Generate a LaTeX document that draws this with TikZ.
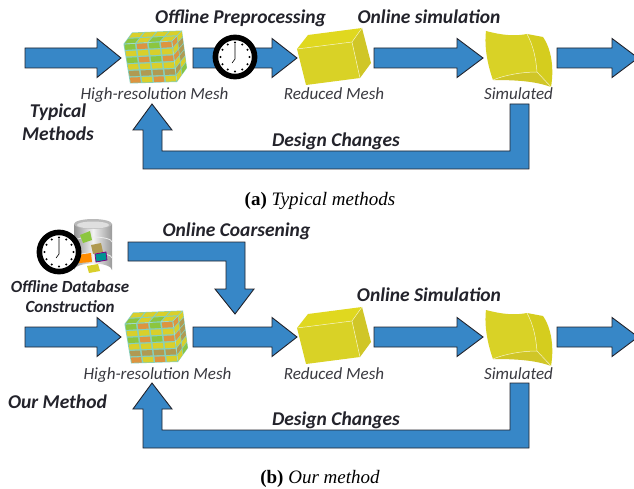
\documentclass[tikz,border=0pt]{standalone}
\usepackage{fontspec}
\setmainfont{Liberation Serif}
\newfontfamily\calib{Carlito}
\usetikzlibrary{calc}
\definecolor{blk}{HTML}{3787C7}
\definecolor{ink}{HTML}{23232B}
\definecolor{cy}{HTML}{D9CF2B}
\definecolor{cg}{HTML}{8CC63F}
\definecolor{co}{HTML}{DD9440}
\definecolor{ck}{HTML}{B09A52}
\definecolor{mortar}{HTML}{86D0BC}
\definecolor{ylw}{HTML}{D9D226}
\definecolor{ylwt}{HTML}{E0D81F}
\definecolor{ylwd}{HTML}{D0C627}
\tikzset{
  blockarrow/.style={fill=blk,draw=ink,line width=0.9pt,line join=miter},
  headlabel/.style={font=\calib\bfseries\itshape\fontsize{19.5}{22}\selectfont,text=ink,inner sep=0pt,align=center},
  dblabel/.style={font=\calib\bfseries\itshape\fontsize{17}{20}\selectfont,text=ink,inner sep=0pt,align=center},
  meshlabel/.style={font=\calib\itshape\fontsize{17}{20}\selectfont,text=ink!90,inner sep=0pt},
  caption/.style={font=\fontsize{19}{22}\selectfont,text=black,inner sep=0pt},
  solid yellow/.style={draw=white!70!ylw,line width=0.5pt,line join=round},
}
% straight block arrow: x0, x1 (neck), tip x, centre y
\newcommand{\flatarrow}[4]{%
  \draw[blockarrow] (#1,#4-10) -- (#2,#4-10) -- (#2,#4-19.5) -- (#3,#4) -- (#2,#4+19.5) -- (#2,#4+10) -- (#1,#4+10) -- cycle;}
% feedback arrow, y offset
\newcommand{\feedback}[1]{%
  \draw[blockarrow] (510,#1+104) -- (529,#1+104) -- (529,#1+169) -- (143,#1+169) -- (143,#1+130) -- (133,#1+130) -- (152,#1+104) -- (172,#1+130) -- (162,#1+130) -- (162,#1+151) -- (510,#1+151) -- cycle;}
% grid of bricks on quad A B C D (cols, rows, colours)
\newcommand{\bricks}[7]{%
  \fill[mortar] (#1) -- (#2) -- (#3) -- (#4) -- cycle;
  \foreach \cc [count=\i from 0] in {#7} {
    \pgfmathsetmacro{\cl}{int(mod(\i,#5))}
    \pgfmathsetmacro{\rw}{int(\i/#5)}
    \pgfmathsetmacro{\ua}{(\cl+0.07)/#5}
    \pgfmathsetmacro{\ub}{(\cl+0.93)/#5}
    \pgfmathsetmacro{\va}{(\rw+0.1)/#6}
    \pgfmathsetmacro{\vb}{(\rw+0.9)/#6}
    \fill[\cc]
      ($($(#1)!\ua!(#2)$)!\va!($(#4)!\ua!(#3)$)$) --
      ($($(#1)!\ub!(#2)$)!\va!($(#4)!\ub!(#3)$)$) --
      ($($(#1)!\ub!(#2)$)!\vb!($(#4)!\ub!(#3)$)$) --
      ($($(#1)!\ua!(#2)$)!\vb!($(#4)!\ua!(#3)$)$) -- cycle;
  }}
\newcommand{\brickcube}[2]{%
  \begin{scope}[shift={(#1,#2)}]
    \coordinate (ftl) at (123.5,44);
    \coordinate (ftr) at (172,41);
    \coordinate (fbr) at (177,82);
    \coordinate (fbl) at (130,83.5);
    \coordinate (btl) at (132,32.5);
    \coordinate (btr) at (182,30.5);
    \coordinate (rbr) at (187,68);
    \bricks{btl}{btr}{ftr}{ftl}{4}{2}{cy,cy,cy,cy,cg,cy,cg,cy}
    \bricks{ftl}{ftr}{fbr}{fbl}{4}{6}{cg,co,cg,co,cy,cy,cy,cy,cg,co,cg,co,cy,cy,cy,cy,ck,ck,ck,ck,co,cy,co,cy}
    \bricks{ftr}{btr}{rbr}{fbr}{2}{6}{co,cy,cy,ck,co,ck,cy,ck,ck,cy,cy,cg}
  \end{scope}}
\newcommand{\clockface}[2]{%
  \begin{scope}[shift={(#1,#2)}]
    \draw[black,line width=5.6pt,fill=white] (0,0) circle[radius=19.6];
    \foreach \a in {0,30,...,330} \fill[black] (\a:14.5) circle[radius=1.1];
    \draw[black,line width=0.6pt,line cap=round] (-3,6) -- (0,2) -- (0,-13);
  \end{scope}}
\newcommand{\reducedblock}{%
  \fill[ylwt] (297,49) -- (308,35) -- (362,28) -- (352,42) -- cycle;
  \fill[ylwd] (352,42) -- (362,28) -- (371,63) -- (360,78) -- cycle;
  \fill[ylw] (297,49) -- (352,42) -- (360,78) -- (306,85) -- cycle;
  \draw[solid yellow] (297,49) -- (352,42) -- (360,78) (352,42) -- (362,28);}
\newcommand{\simblock}{%
  \fill[ylw] (486,31) .. controls (505,36) and (516,36) .. (527,34) .. controls (534,47) and (536,60) .. (537,72) .. controls (522,72) and (505,75) .. (493,80) .. controls (488,66) and (484,48) .. (486,31) -- cycle;
  \fill[ylwt!95!black] (527,34) -- (543,37) .. controls (552,50) and (554,70) .. (551,87) .. controls (546,80) and (542,76) .. (537,72) .. controls (536,60) and (534,47) .. (527,34) -- cycle;
  \fill[ylwd] (493,80) .. controls (505,75) and (522,72) .. (537,72) .. controls (542,76) and (546,80) .. (551,87) .. controls (535,81) and (515,80) .. (493,80) -- cycle;
  \draw[solid yellow] (527,34) .. controls (534,47) and (536,60) .. (537,72) (493,80) .. controls (505,75) and (522,72) .. (537,72) -- (551,87);}
\begin{document}
\begin{tikzpicture}[x=1pt,y=-1pt]
\useasboundingbox (0,0) rectangle (634,489);
\fill[white] (0,0) rectangle (634,489);

% ---------- (a) ----------
\flatarrow{25}{97}{121}{58}
\flatarrow{193}{272}{297}{58}
\flatarrow{374}{457}{483}{58}
\flatarrow{557}{612}{638}{58}
\feedback{0}
\brickcube{0}{0}
\clockface{235}{57}
\reducedblock
\simblock
\node[headlabel] (preproc) at (240.5,18) {Offline Preprocessing};
\node[headlabel] (onlinea) at (429,17) {Online simulation};
\node[meshlabel] (higha) at (154.5,95) {High-resolution Mesh};
\node[meshlabel] (reda) at (334,94) {Reduced Mesh};
\node[meshlabel] (sima) at (518.5,94) {Simulated};
\node[headlabel] (typ) at (58,122) {Typical\\[1pt]Methods};
\node[headlabel] (designa) at (336,141) {Design Changes};
\node[caption] (capa) at (320,201) {\textbf{(a)} \textit{Typical methods}};

% ---------- (b) ----------
\flatarrow{25}{97}{121}{337}
\flatarrow{193}{272}{297}{337}
\flatarrow{374}{457}{483}{337}
\flatarrow{557}{612}{638}{337}
\feedback{279}
\draw[blockarrow] (128,242) -- (245,242) -- (245,289) -- (254,289) -- (235,314) -- (215,289) -- (226,289) -- (226,261) -- (128,261) -- cycle;
\brickcube{1}{280}
\begin{scope}[yshift=-279pt]
  \reducedblock
  \simblock
\end{scope}
% database
\shade[left color=gray!85,right color=gray!80,middle color=white!90!gray]
  (74,224) -- (74,270) arc[start angle=180,end angle=360,x radius=19,y radius=6.5] -- (112,224) -- cycle;
\fill[gray!55] (93,224) ellipse[x radius=19,y radius=5];
\fill[gray!25] (93,225) ellipse[x radius=16,y radius=3.5];
\draw[white!85!gray,line width=0.8pt] (74,242) arc[start angle=180,end angle=360,x radius=19,y radius=5]
  (74,258) arc[start angle=180,end angle=360,x radius=19,y radius=5];
\fill[cg] (80,235) -- (90,231) -- (92,240) -- (83,243) -- cycle;
\fill[ck] (91,245) -- (101,243) -- (103,252) -- (93,254) -- cycle;
\fill[orange!90!yellow] (78,255) -- (91,253) -- (92,262) -- (79,263) -- cycle;
\draw[violet,fill=teal!85!cyan,line width=0.8pt] (95,254) -- (106,252) -- (107,260) -- (96,262) -- cycle;
\fill[cy] (87,266) -- (98,264) -- (100,271) -- (89,273) -- cycle;
\clockface{59}{252}
\node[dblabel] (dbase) at (70,297) {Offline Database\\Construction};
\node[headlabel] (coarse) at (236.5,231) {Online Coarsening};
\node[headlabel] (onlineb) at (429,295) {Online Simulation};
\node[meshlabel] (highb) at (157.5,375) {High-resolution Mesh};
\node[meshlabel] (redb) at (334,374) {Reduced Mesh};
\node[meshlabel] (simb) at (518.5,374) {Simulated};
\node[headlabel] (our) at (57.5,402) {Our Method};
\node[headlabel] (designb) at (336,420) {Design Changes};
\node[caption] (capb) at (320,479) {\textbf{(b)} \textit{Our method}};
\end{tikzpicture}
\end{document}
